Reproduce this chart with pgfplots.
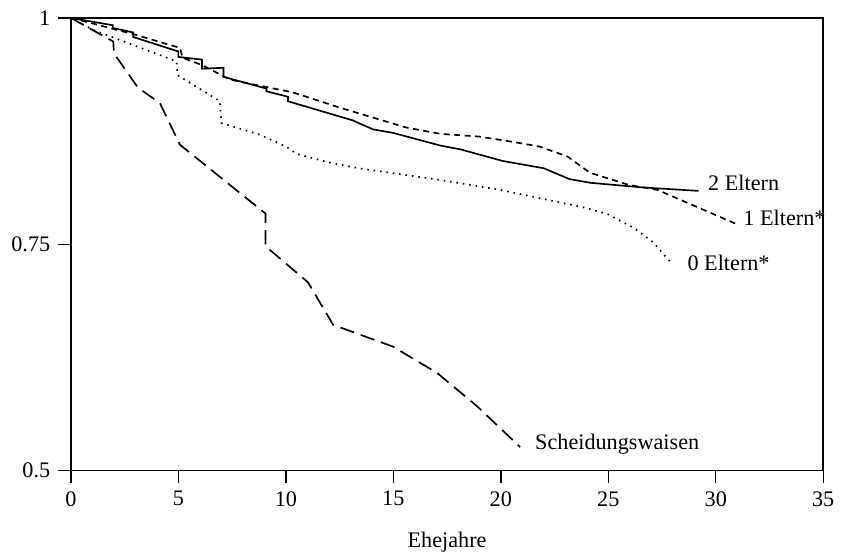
\documentclass[border=0pt]{standalone}
\usepackage{pgfplots}
\pgfplotsset{compat=1.18}
\usepackage{fontspec}
\setmainfont{Liberation Serif}

\begin{document}
\begin{tikzpicture}
\begin{axis}[
    scale only axis,
    width=338.9pt,
    height=203.9pt,
    xmin=0, xmax=35,
    ymin=0.5, ymax=1,
    xtick={0,5,10,15,20,25,30,35},
    ytick={0.5,0.75,1},
    yticklabels={0.5,0.75,1},
    xtick pos=bottom,
    ytick pos=left,
    tick align=outside,
    major tick length=5.8pt,
    axis line style={line width=0.7pt},
    every tick/.style={black, line width=0.65pt},
    /pgf/number format/assume math mode=true,
    xlabel={Ehejahre},
    xlabel style={at={(axis description cs:0.5,0)}, anchor=center, yshift=-32.4pt},
    clip=false,
    every axis plot/.append style={black, line width=0.75pt},
]

% 2 Eltern
\addplot[solid] coordinates {
    (0,1) (1.95,0.992) (1.95,0.989) (2.9,0.984) (2.9,0.979) (5.0,0.963) (5.0,0.957)
    (6.1,0.954) (6.1,0.944) (7.1,0.945) (7.1,0.935) (9.1,0.922) (9.1,0.919)
    (10.1,0.913) (10.1,0.908) (13.1,0.887) (14.05,0.877) (15.0,0.873) (17.2,0.859)
    (18.1,0.855) (20.1,0.842) (22.0,0.834) (23.2,0.822) (24.15,0.818) (26.5,0.813)
    (29.2,0.809)
};

% 1 Eltern*
\addplot[dash pattern=on 2.7pt off 2pt] coordinates {
    (0,1) (1.0,0.994) (3.07,0.981) (5.07,0.967) (5.2,0.956) (6.1,0.948) (7.4,0.932)
    (8.2,0.928) (10.3,0.918) (12.5,0.901) (14.05,0.890) (15.6,0.879) (17.2,0.872)
    (19.0,0.869) (20.6,0.863) (21.8,0.858) (23.1,0.847) (24.15,0.829) (25.9,0.816)
    (27.3,0.810) (31.0,0.772)
};

% 0 Eltern*
\addplot[dash pattern=on 0.7pt off 2.2pt] coordinates {
    (0,1) (1.02,0.987) (4.92,0.952) (4.95,0.937) (6.93,0.908) (7.0,0.884)
    (8.8,0.871) (10.0,0.858) (10.5,0.850) (11.9,0.841) (13.4,0.834) (17.2,0.821)
    (20.0,0.810) (22.0,0.800) (24.0,0.790) (25.0,0.783) (26.2,0.768) (27.1,0.752)
    (27.9,0.730)
};

% Scheidungswaisen
\addplot[dash pattern=on 6.5pt off 3.2pt] coordinates {
    (0,1) (1.97,0.974) (2.0,0.961) (3.12,0.923) (4.14,0.906) (5.07,0.860)
    (9.05,0.784) (9.05,0.748) (11.03,0.708) (12.2,0.661) (14.98,0.637)
    (17.03,0.608) (18.9,0.571) (20.9,0.526)
};

\node[anchor=west, inner sep=0pt] at (axis cs:29.63,0.818) {2 Eltern};
\node[anchor=west, inner sep=0pt] at (axis cs:31.27,0.779) {1 Eltern*};
\node[anchor=west, inner sep=0pt] at (axis cs:28.67,0.729) {0 Eltern*};
\node[anchor=west, inner sep=0pt] at (axis cs:21.58,0.529) {Scheidungswaisen};

% page extent as in the reference
\path (axis cs:-3.30,0.4062) rectangle (axis cs:36.06,1.0199);
\end{axis}
\end{tikzpicture}
\end{document}
